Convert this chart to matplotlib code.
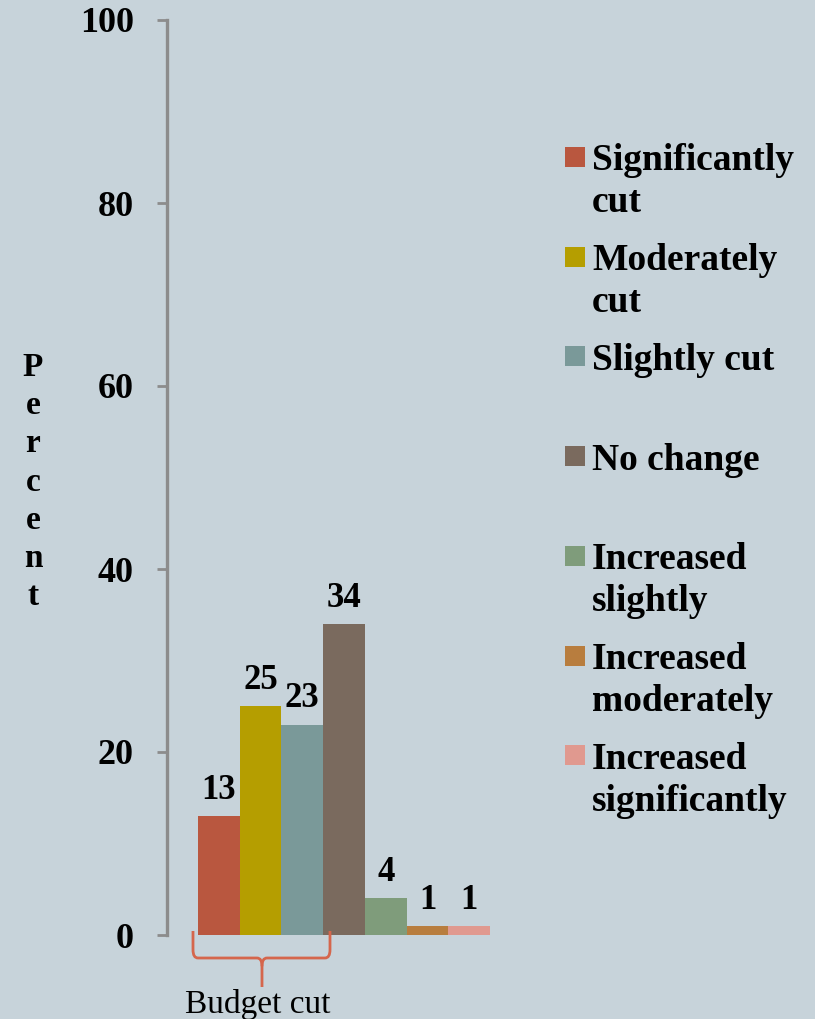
import matplotlib
matplotlib.use("Agg")
import matplotlib.pyplot as plt
from matplotlib.patches import Rectangle, PathPatch
from matplotlib.path import Path

# Survey responses: change in budget
categories = ["Significantly\ncut", "Moderately\ncut", "Slightly cut", "No change",
              "Increased\nslightly", "Increased\nmoderately", "Increased\nsignificantly"]
percent = [13, 25, 23, 34, 4, 1, 1]
colors = ["#b9573f", "#b59e00", "#7a9999", "#7a6a5e", "#7f9c7b", "#b87d3e", "#e0998f"]
y_ticks = [0, 20, 40, 60, 80, 100]
axis_label = "Percent"
group_label = "Budget cut"

BG = "#c7d3da"
W, H = 815, 1019
fig = plt.figure(figsize=(W / 100, H / 100), dpi=100, facecolor=BG)

# axes placed in pixel terms
ax_left, ax_right, ax_top, ax_bottom = 167, 520, 20, 935
ax = fig.add_axes([ax_left / W, 1 - ax_bottom / H, (ax_right - ax_left) / W, (ax_bottom - ax_top) / H])
ax.set_facecolor(BG)

serif = "Liberation Serif"
px_per_unit = (490 - 198) / 7
x0 = -0.5 - (198 - ax_left) / px_per_unit
x1 = 6.5 + (ax_right - 490) / px_per_unit

xs = list(range(len(percent)))
ax.bar(xs, percent, width=1.0, color=colors, edgecolor="none")
for x, v in zip(xs, percent):
    ax.text(x, v + 1.0, str(v), ha="center", va="bottom", fontsize=25,
            fontweight="bold", family=serif, color="black")

ax.set_xlim(x0, x1)
ax.set_ylim(0, 100)
ax.set_yticks(y_ticks)
ax.set_yticklabels([str(t) for t in y_ticks], fontsize=26, fontweight="bold", family=serif)
ax.set_xticks([])
for s in ["top", "right", "bottom"]:
    ax.spines[s].set_visible(False)
ax.spines["left"].set_color("#8c8c8c")
ax.spines["left"].set_linewidth(2.4)
ax.tick_params(axis="y", length=7, width=2, color="#8c8c8c", pad=17)

# stacked vertical axis label
fig.text(33 / W, 1 - 482 / H, "\n".join(axis_label), ha="center", va="center",
         fontsize=24, fontweight="bold", family=serif, linespacing=1.3)

# bracket under the budget-cut bars
def dx(px):
    return -0.5 + (px - 198) / px_per_unit

def dy(py):
    return (ax_bottom - py) / ((ax_bottom - ax_top) / 100)

bl, br, bm = dx(193), dx(330), dx(262)
yt, yh, yb = dy(931), dy(958), dy(987)
r = 0.12
ry = 0.9
verts = [(bl, yt), (bl, yh + ry), (bl, yh), (bl + r, yh),
         (bm - r, yh), (bm, yh), (bm, yh - ry), (bm, yb)]
codes = [Path.MOVETO, Path.LINETO, Path.CURVE3, Path.CURVE3,
         Path.LINETO, Path.CURVE3, Path.CURVE3, Path.LINETO]
verts2 = [(br, yt), (br, yh + ry), (br, yh), (br - r, yh),
          (bm + r, yh), (bm, yh), (bm, yh - ry)]
codes2 = [Path.MOVETO, Path.LINETO, Path.CURVE3, Path.CURVE3,
          Path.LINETO, Path.CURVE3, Path.CURVE3]
for v, c in [(verts, codes), (verts2, codes2)]:
    ax.add_patch(PathPatch(Path(v, c), facecolor="none", edgecolor="#d5664c",
                           linewidth=2, clip_on=False, capstyle="butt"))
ax.text(dx(258), dy(1004), group_label, ha="center", va="center", fontsize=24,
        family=serif, color="black", clip_on=False)

# legend drawn as swatches with wrapped labels
line_gap = 42
for i, (lab, col) in enumerate(zip(categories, colors)):
    cy = 157 + 99.7 * i
    fig.patches.append(Rectangle((565 / W, 1 - (cy + 10) / H), 20 / W, 20 / H,
                                 transform=fig.transFigure, facecolor=col, edgecolor="none"))
    for j, line in enumerate(lab.split("\n")):
        fig.text(592 / W, 1 - (cy + j * line_gap) / H, line, ha="left", va="center_baseline",
                 fontsize=27, fontweight="bold", family=serif, color="black")

fig.savefig("out.png", dpi=100, facecolor=BG)
